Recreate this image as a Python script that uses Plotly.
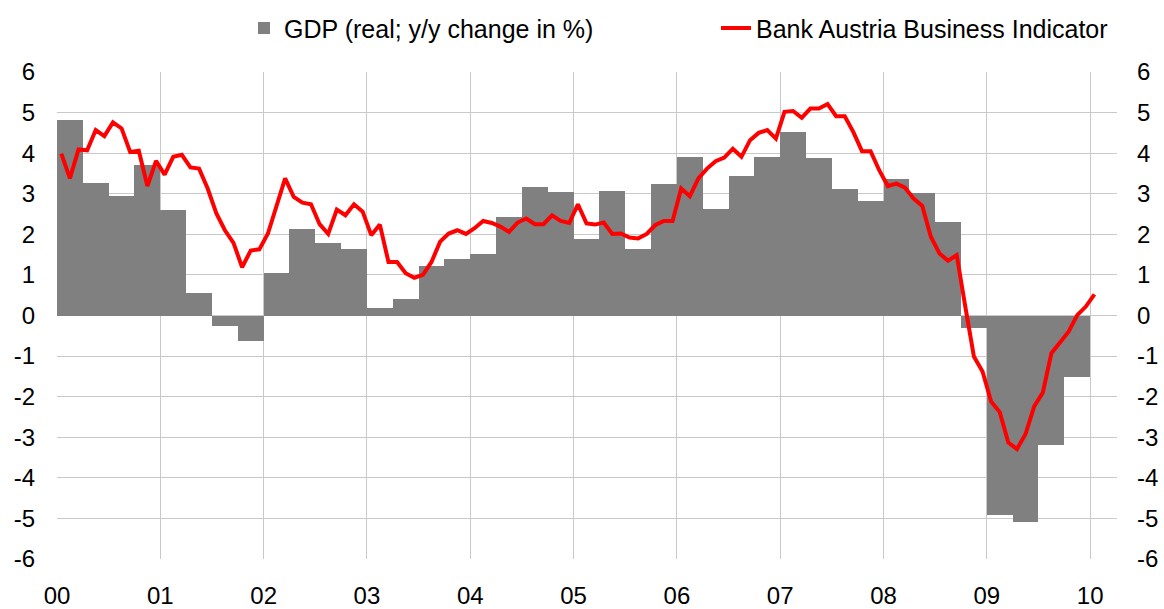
import plotly.graph_objects as go

# Quarterly real GDP, y/y change in % (2000Q1 .. 2009Q4)
gdp_years = list(range(2000, 2010))
gdp_values = [
    4.81, 3.26, 2.94, 3.70,   # 2000
    2.60, 0.55, -0.25, -0.64,  # 2001
    1.05, 2.13, 1.78, 1.64,   # 2002
    0.18, 0.40, 1.22, 1.39,   # 2003
    1.51, 2.42, 3.16, 3.04,   # 2004
    1.88, 3.06, 1.64, 3.24,   # 2005
    3.90, 2.62, 3.43, 3.90,   # 2006
    4.52, 3.88, 3.11, 2.82,   # 2007
    3.36, 3.01, 2.30, -0.32,  # 2008
    -4.91, -5.10, -3.20, -1.51,  # 2009
]

# Monthly Bank Austria Business Indicator (Jan 2000 .. Jan 2010)
bi_values = [
    3.99, 3.38, 4.09, 4.07, 4.57, 4.42, 4.76, 4.61, 4.03, 4.06, 3.19, 3.81,  # 2000
    3.47, 3.91, 3.96, 3.65, 3.62, 3.13, 2.52, 2.10, 1.79, 1.19, 1.60, 1.63,  # 2001
    2.02, 2.68, 3.38, 2.92, 2.78, 2.74, 2.25, 2.01, 2.61, 2.47, 2.74, 2.56,  # 2002
    1.98, 2.24, 1.32, 1.32, 1.04, 0.93, 1.00, 1.32, 1.82, 2.02, 2.10, 2.01,  # 2003
    2.15, 2.33, 2.28, 2.19, 2.06, 2.29, 2.39, 2.25, 2.25, 2.47, 2.33, 2.28,  # 2004
    2.74, 2.27, 2.24, 2.29, 2.01, 2.02, 1.92, 1.90, 2.01, 2.23, 2.33, 2.33,  # 2005
    3.13, 2.94, 3.38, 3.62, 3.80, 3.89, 4.11, 3.91, 4.32, 4.50, 4.57, 4.36,  # 2006
    5.02, 5.04, 4.87, 5.10, 5.10, 5.21, 4.91, 4.91, 4.52, 4.05, 4.05, 3.58,  # 2007
    3.19, 3.25, 3.15, 2.88, 2.70, 1.94, 1.53, 1.35, 1.49, 0.22, -1.01, -1.38,  # 2008
    -2.12, -2.38, -3.13, -3.29, -2.92, -2.24, -1.90, -0.93, -0.68, -0.40, 0.01, 0.22,  # 2009
    0.52,  # Jan 2010
]

year_ticks = list(range(2000, 2011))
year_labels = ["00", "01", "02", "03", "04", "05", "06", "07", "08", "09", "10"]
y_ticks = list(range(-6, 7))
y_labels = [str(v) for v in y_ticks]  # plain hyphen minus as in the original

gdp_x = [y + (q + 0.5) / 4 for y in gdp_years for q in range(4)]
bi_x = [2000 + (i + 0.5) / 12 for i in range(len(bi_values))]

FONT = "Liberation Sans, Arial, sans-serif"
GRID = "#C9C9C9"
FS = 24
LFS = 25

fig = go.Figure()
fig.add_trace(go.Bar(
    x=gdp_x, y=gdp_values, width=0.25,
    name="GDP (real; y/y change in %)",
    marker=dict(color="#808080", line=dict(width=0)),
    legend="legend", showlegend=True,
))
fig.add_trace(go.Scatter(
    x=bi_x, y=bi_values, mode="lines",
    name="Bank Austria Business Indicator",
    line=dict(color="#FF0000", width=4),
    yaxis="y2",
    legend="legend2", showlegend=True,
))

fig.update_layout(
    width=1164, height=609,
    margin=dict(l=57, r=47, t=72, b=50, autoexpand=False),
    paper_bgcolor="white", plot_bgcolor="white",
    font=dict(family=FONT, size=FS, color="black"),
    showlegend=True,
    bargap=0,
    xaxis=dict(
        range=[2000, 2010.26], tickvals=year_ticks, ticktext=year_labels,
        showgrid=True, gridcolor=GRID, gridwidth=1, zeroline=False,
        showline=False, ticks="", ticklabelstandoff=20,
        tickfont=dict(size=FS),
    ),
    yaxis=dict(
        range=[-6, 6], tickvals=y_ticks, ticktext=y_labels, showgrid=True,
        gridcolor=GRID, gridwidth=1, zeroline=False, showline=False,
        ticks="", ticklabelstandoff=21, tickfont=dict(size=FS),
    ),
    yaxis2=dict(
        range=[-6, 6], tickvals=y_ticks, ticktext=y_labels, overlaying="y",
        side="right", showgrid=False, zeroline=False, showline=False,
        ticks="", ticklabelstandoff=19, tickfont=dict(size=FS),
    ),
    legend=dict(
        x=(244 - 57) / 1060, xanchor="left", y=1.09, yanchor="middle",
        orientation="h", bgcolor="rgba(0,0,0,0)", font=dict(size=LFS),
    ),
    legend2=dict(
        x=(716 - 57) / 1060, xanchor="left", y=1.09, yanchor="middle",
        orientation="h", bgcolor="rgba(0,0,0,0)", font=dict(size=LFS),
    ),
)

fig.write_html(
    "out.html",
    config={"displayModeBar": False},
    post_script="document.body.style.margin='0';document.body.style.overflow='hidden';",
)
